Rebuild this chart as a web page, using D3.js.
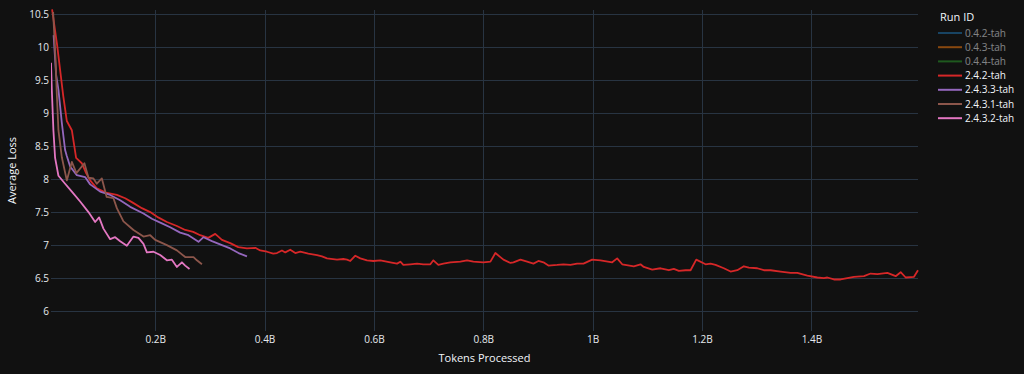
<!DOCTYPE html>
<html>
<head>
<meta charset="utf-8">
<script src="https://cdn.jsdelivr.net/npm/d3@7"></script>
<style>
  body { margin: 0; background: #111111; }
  svg { display: block; font-family: "Open Sans", sans-serif; }
</style>
</head>
<body>
<svg id="chart"></svg>
<script>
const size = {w: 1024, h: 374};
const plot = {l: 51, r: 918, t: 10, b: 331};

//DATA (tokens in billions, average loss)
const runIds = ['0.4.2-tah', '0.4.3-tah', '0.4.4-tah', '2.4.2-tah', '2.4.3.3-tah', '2.4.3.1-tah', '2.4.3.2-tah'];
const hiddenRuns = ['0.4.2-tah', '0.4.3-tah', '0.4.4-tah'];

const tokens242 = [0.0115, 0.0207, 0.0317, 0.0384, 0.0476, 0.0554, 0.0659, 0.0737, 0.0811, 0.0933,
  0.1116, 0.1299, 0.1451, 0.1597, 0.1757, 0.1909, 0.2055, 0.2214, 0.2397, 0.2549,
  0.2695, 0.2823, 0.2970, 0.3098, 0.3221, 0.3372, 0.3519, 0.3678, 0.3830, 0.3921,
  0.4044, 0.4159, 0.4227, 0.4318, 0.4379, 0.4470, 0.4562, 0.4653, 0.4800, 0.4959,
  0.5050, 0.5142, 0.5325, 0.5440, 0.5508, 0.5568, 0.5660, 0.5751, 0.5874, 0.5989,
  0.6117, 0.6300, 0.6423, 0.6483, 0.6538, 0.6666, 0.6789, 0.6904, 0.7032, 0.7087,
  0.7178, 0.7270, 0.7398, 0.7581, 0.7704, 0.7819, 0.8002, 0.8130, 0.8221, 0.8368,
  0.8496, 0.8551, 0.8679, 0.8801, 0.8917, 0.9008, 0.9100, 0.9191, 0.9350, 0.9466,
  0.9594, 0.9716, 0.9832, 0.9991, 1.0143, 1.0357, 1.0448, 1.0540, 1.0752, 1.0875,
  1.0935, 1.1089, 1.1241, 1.1393, 1.1484, 1.1576, 1.1698, 1.1790, 1.1894, 1.2064,
  1.2156, 1.2247, 1.2399, 1.2522, 1.2644, 1.2765, 1.2856, 1.3010, 1.3131, 1.3254,
  1.3437, 1.3620, 1.3742, 1.3925, 1.4108, 1.4229, 1.4291, 1.4412, 1.4534, 1.4657,
  1.4778, 1.4961, 1.5083, 1.5206, 1.5389, 1.5541, 1.5632, 1.5724, 1.5876, 1.5949];
const loss242 = [10.57, 10.03, 9.27, 8.88, 8.74, 8.32, 8.24, 8.09, 7.98, 7.86,
  7.79, 7.76, 7.71, 7.64, 7.56, 7.50, 7.42, 7.35, 7.29, 7.23,
  7.20, 7.15, 7.11, 7.17, 7.08, 7.03, 6.97, 6.95, 6.96, 6.92,
  6.90, 6.87, 6.88, 6.92, 6.89, 6.93, 6.88, 6.90, 6.87, 6.85,
  6.83, 6.80, 6.78, 6.79, 6.78, 6.76, 6.84, 6.80, 6.77, 6.76,
  6.77, 6.74, 6.72, 6.75, 6.70, 6.71, 6.72, 6.71, 6.71, 6.77,
  6.70, 6.72, 6.74, 6.75, 6.77, 6.75, 6.74, 6.75, 6.88, 6.78,
  6.73, 6.74, 6.78, 6.75, 6.72, 6.76, 6.74, 6.69, 6.70, 6.71,
  6.70, 6.72, 6.72, 6.78, 6.77, 6.74, 6.80, 6.71, 6.68, 6.71,
  6.67, 6.63, 6.65, 6.62, 6.64, 6.61, 6.62, 6.62, 6.78, 6.71,
  6.72, 6.70, 6.65, 6.60, 6.62, 6.68, 6.66, 6.65, 6.62, 6.62,
  6.60, 6.58, 6.58, 6.54, 6.51, 6.50, 6.51, 6.48, 6.48, 6.50,
  6.52, 6.53, 6.57, 6.56, 6.58, 6.53, 6.59, 6.51, 6.52, 6.62];

const tokens2433 = [0.0143, 0.0188, 0.0231, 0.0293, 0.0353, 0.0384, 0.0445, 0.0567, 0.0719, 0.0811,
  0.0994, 0.1177, 0.1360, 0.1543, 0.1786, 0.1940, 0.2123, 0.2274, 0.2457, 0.2609,
  0.2792, 0.2884, 0.3038, 0.3221, 0.3372, 0.3524, 0.3678];
const loss2433 = [10.18, 9.58, 9.35, 8.85, 8.44, 8.35, 8.19, 8.06, 8.03, 7.92,
  7.81, 7.76, 7.68, 7.58, 7.48, 7.40, 7.33, 7.27, 7.19, 7.15,
  7.05, 7.12, 7.06, 7.00, 6.95, 6.88, 6.83];

const tokens2431 = [0.0134, 0.0179, 0.0198, 0.0231, 0.0293, 0.0384, 0.0476, 0.0560, 0.0706, 0.0780,
  0.0871, 0.0933, 0.1025, 0.1113, 0.1237, 0.1299, 0.1420, 0.1603, 0.1786, 0.1909,
  0.2000, 0.2214, 0.2397, 0.2549, 0.2701, 0.2763, 0.2855];
const loss2431 = [10.53, 9.80, 9.35, 8.74, 8.33, 7.98, 8.26, 8.09, 8.24, 8.02,
  8.01, 7.93, 8.01, 7.73, 7.71, 7.56, 7.36, 7.23, 7.13, 7.15,
  7.08, 7.00, 6.92, 6.82, 6.82, 6.77, 6.71];

const tokens2432 = [0.0095, 0.0110, 0.0139, 0.0170, 0.0231, 0.0353, 0.0476, 0.0628, 0.0780, 0.0902,
  0.0975, 0.1054, 0.1177, 0.1268, 0.1360, 0.1482, 0.1603, 0.1694, 0.1786, 0.1848,
  0.1969, 0.2092, 0.2214, 0.2306, 0.2397, 0.2489, 0.2549, 0.2628];
const loss2432 = [9.76, 9.35, 8.74, 8.32, 8.05, 7.93, 7.81, 7.66, 7.50, 7.35,
  7.42, 7.25, 7.09, 7.12, 7.06, 6.99, 7.13, 7.11, 7.02, 6.89,
  6.90, 6.85, 6.77, 6.78, 6.67, 6.74, 6.69, 6.64];

const xTicks = [0.2, 0.4, 0.6, 0.8, 1.0, 1.2, 1.4];
const xTickLabels = ['0.2B', '0.4B', '0.6B', '0.8B', '1B', '1.2B', '1.4B'];
const yTicks = [6, 6.5, 7, 7.5, 8, 8.5, 9, 9.5, 10, 10.5];
const xRange = [0.0095, 1.5949];
const yRange = [5.70, 10.56];

//BUILDING SERIES (drawing order = legend order)
const series = [
  {id: '2.4.2-tah', x: tokens242, y: loss242},
  {id: '2.4.3.3-tah', x: tokens2433, y: loss2433},
  {id: '2.4.3.1-tah', x: tokens2431, y: loss2431},
  {id: '2.4.3.2-tah', x: tokens2432, y: loss2432}
].map(s => ({id: s.id, points: s.x.map((t, i) => [t, s.y[i]])}));

const svg = d3.select('svg#chart')
  .attr('width', size.w)
  .attr('height', size.h);

svg.append('rect')
  .attr('width', size.w)
  .attr('height', size.h)
  .attr('fill', '#111111');

const colorScale = d3.scaleOrdinal()
  .domain(runIds)
  .range(d3.schemeCategory10);

const x = d3.scaleLinear().domain(xRange).range([plot.l, plot.r]);
const y = d3.scaleLinear().domain(yRange).range([plot.b, plot.t]);

drawGrid();
drawAxes();
drawLines();
drawLegend();

//--------FUNCTIONS--------

//GRID LINES
function drawGrid(){
  const gridG = svg.append('g').attr('stroke', '#283442').attr('stroke-width', 1);

  gridG.selectAll('line.gx')
    .data(xTicks)
    .join('line')
    .attr('x1', d => Math.round(x(d)) + 0.5)
    .attr('x2', d => Math.round(x(d)) + 0.5)
    .attr('y1', plot.t)
    .attr('y2', plot.b);

  gridG.selectAll('line.gy')
    .data(yTicks)
    .join('line')
    .attr('x1', plot.l)
    .attr('x2', plot.r)
    .attr('y1', d => Math.round(y(d)) + 0.5)
    .attr('y2', d => Math.round(y(d)) + 0.5);
}

//AXES (ticks labels + titles)
function drawAxes(){
  const xAxis = d3.axisBottom(x)
    .tickValues(xTicks)
    .tickFormat((d, i) => xTickLabels[i])
    .tickSize(0)
    .tickPadding(5);

  const xG = svg.append('g')
    .attr('transform', `translate(0, ${plot.b})`)
    .call(xAxis);

  const yAxis = d3.axisLeft(y)
    .tickValues(yTicks)
    .tickFormat(d3.format('~g'))
    .tickSize(0)
    .tickPadding(2);

  const yG = svg.append('g')
    .attr('transform', `translate(${plot.l}, 0)`)
    .call(yAxis);

  [xG, yG].forEach(g => {
    g.select('.domain').remove();
    g.selectAll('text')
      .attr('fill', '#e6e9ee')
      .style('font-size', '10px')
      .style('font-family', '"Open Sans", sans-serif');
  });

  svg.append('text')
    .attr('x', (plot.l + plot.r) / 2)
    .attr('y', 362)
    .attr('text-anchor', 'middle')
    .attr('fill', '#f2f5fa')
    .style('font-size', '11px')
    .text('Tokens Processed');

  svg.append('text')
    .attr('transform', `translate(16, ${(plot.t + plot.b) / 2}) rotate(-90)`)
    .attr('text-anchor', 'middle')
    .attr('fill', '#f2f5fa')
    .style('font-size', '11px')
    .text('Average Loss');
}

//LINES
function drawLines(){
  svg.append('clipPath')
    .attr('id', 'plotClip')
    .append('rect')
    .attr('x', plot.l)
    .attr('y', plot.t - 2)
    .attr('width', plot.r - plot.l + 2)
    .attr('height', plot.b - plot.t + 2);

  const line = d3.line()
    .x(d => x(d[0]))
    .y(d => y(d[1]));

  svg.append('g')
    .attr('clip-path', 'url(#plotClip)')
    .selectAll('path')
    .data(series)
    .join('path')
    .attr('d', d => line(d.points))
    .attr('fill', 'none')
    .attr('stroke', d => colorScale(d.id))
    .attr('stroke-width', 1.8)
    .attr('stroke-linejoin', 'round');
}

//LEGEND
function drawLegend(){
  const legendG = svg.append('g').attr('transform', 'translate(938, 0)');

  legendG.append('text')
    .attr('x', 2)
    .attr('y', 21)
    .attr('fill', '#f2f5fa')
    .style('font-size', '11px')
    .text('Run ID');

  const items = legendG.selectAll('g.item')
    .data(runIds)
    .join('g')
    .attr('transform', (d, i) => `translate(0, ${33 + i * 14.2})`)
    .style('opacity', d => hiddenRuns.includes(d) ? 0.5 : 1);

  items.append('line')
    .attr('x1', 0)
    .attr('x2', 24)
    .attr('stroke', d => colorScale(d))
    .attr('stroke-width', 2);

  items.append('text')
    .attr('x', 27)
    .attr('y', 3.5)
    .attr('fill', '#f2f5fa')
    .style('font-size', '10px')
    .text(d => d);
}
</script>
</body>
</html>
